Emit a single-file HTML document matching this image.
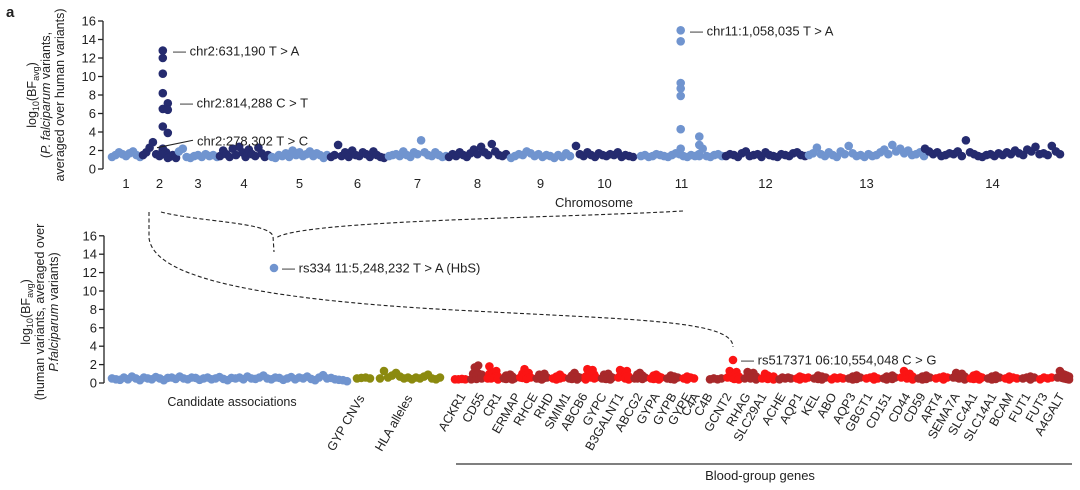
<!DOCTYPE html>
<html><head><meta charset="utf-8"><style>
html,body{margin:0;padding:0;background:#fff;}
svg{display:block;font-family:"Liberation Sans",Arial,sans-serif;}
text{fill:#222;}
</style></head><body>
<svg id="chart" width="1080" height="490" viewBox="0 0 1080 490">
<text x="6" y="17" font-size="15" font-weight="bold">a</text>
<g id="topPanel"></g>
<g id="botPanel"></g>
<g fill="none" stroke="#222" stroke-width="1.1" stroke-dasharray="4,2.5">
<path d="M149,212 L149,238 C153,270 220,295 420,308 C620,320 733,318 733,347"/>
<path d="M161,212 C200,222 268,222 273,236 L274,252"/>
<path d="M683,211 C560,218 300,220 276,238"/>
</g>
</svg>
<script>
// ---- top panel data ----
const chromLabels=["1","2","3","4","5","6","7","8","9","10","11","12","13","14"];
const chromStart=[112,143,179,220,272,331,389,449,511,576,641,726,809,925];
const chromEnd=[140,176,217,268,327,384,446,506,570,633,722,805,924,1060];
const c1=[1.3,1.5,1.8,1.6,1.4,1.7,1.9,1.5,1.3];
const c2=[1.5,1.8,2.3,2.9,1.6,1.4,2.0,1.8,1.3,1.5,1.2];
const c3=[1.9,2.2,1.3,1.2,1.4,1.5,1.3,1.6,1.4,1.5,1.3];
const c4=[1.4,2.0,1.6,1.3,2.2,1.5,2.4,1.8,1.3,2.1,1.6,1.4,2.3,1.7,1.3,1.5];
const c5=[1.3,1.2,1.5,1.4,1.7,1.3,2.0,1.5,1.8,1.4,1.6,1.9,1.4,1.7,1.5,1.2,1.5];
const c6=[1.3,1.5,2.6,1.4,1.8,1.3,2.0,1.5,1.4,1.8,1.6,1.3,1.9,1.5,1.3,1.2];
const c7=[1.4,1.5,1.6,1.4,1.9,1.5,1.3,1.8,1.6,3.1,1.8,1.5,1.4,1.8,1.5,1.3,1.4];
const c8=[1.3,1.6,1.4,1.8,1.5,1.3,1.7,2.1,1.6,2.4,1.8,1.5,2.7,1.9,1.5,1.4,1.6];
const c9=[1.2,1.4,1.6,1.5,1.9,1.7,1.4,1.6,1.3,1.5,1.4,1.2,1.5,1.3,1.7,1.4];
const c10=[2.5,1.6,1.4,1.8,1.5,1.3,1.7,1.5,1.4,1.6,1.5,1.8,1.3,1.5,1.4,1.3];
const c11=[1.4,1.5,1.3,1.4,1.6,1.5,1.4,1.3,1.5,1.7,1.6,1.4,1.3,1.5,1.4,1.6,2.2,1.4,1.3,1.5,1.6,1.4];
const c12=[1.4,1.6,1.5,1.3,1.7,1.9,1.4,1.5,1.6,1.3,1.8,1.5,1.4,1.3,1.6,1.5,1.4,1.7,1.8,1.5,1.4];
const c13=[1.5,1.7,2.3,1.6,1.4,1.8,1.5,1.3,1.9,1.6,2.5,1.7,1.4,1.5,1.3,1.6,1.4,1.5,1.8,2.1,1.6,2.6,1.9,2.2,1.7,2.0,1.5,1.6,1.8,1.4];
const c14=[2.2,1.9,1.6,1.8,1.4,1.5,1.7,1.6,1.9,1.4,3.1,1.8,1.6,1.4,1.3,1.5,1.6,1.4,1.7,1.5,1.8,1.6,2.0,1.7,1.5,2.1,1.9,2.4,1.6,1.7,1.5,2.5,1.9,1.6];
const chromVals=[c1,c2,c3,c4,c5,c6,c7,c8,c9,c10,c11,c12,c13,c14];
const hitChrom=[2,2,11,11];
const hitFrac=[0.6,0.75,0.49,0.72];
const hitVals=[[12.8,12.0,10.3,8.2,6.5,4.6,2.2,1.6],[7.1,6.4,3.9,1.5,1.2],[15.0,13.8,9.3,8.7,7.9,4.3,2.2],[3.5,2.6,1.4]];
const yTicks=[0,2,4,6,8,10,12,14,16];
// ---- bottom panel data ----
const candVals=[0.5,0.4,0.35,0.6,0.4,0.7,0.5,0.3,0.6,0.5,0.4,0.65,0.5,0.3,0.55,0.6,0.45,0.7,0.5,0.4,0.6,0.55,0.35,0.5,0.6,0.4,0.5,0.65,0.45,0.3,0.55,0.5,0.6,0.4,0.7,0.5,0.45,0.6,0.8,0.5,0.4,0.6,0.55,0.35,0.5,0.65,0.4,0.6,0.5,0.7,0.45,0.3,0.6,0.85,0.5,0.55,0.4,0.35,0.3,0.2];
const gypVals=[0.5,0.55,0.6,0.5];
const hlaVals=[0.5,1.3,0.6,0.8,1.1,0.7,0.5,0.6,0.4,0.6,0.5,0.7,0.9,0.5,0.4,0.6];
const geneNames=["ACKR1","CD55","CR1","ERMAP","RHCE","RHD","SMIM1","ABCB6","GYPC","B3GALNT1","ABCG2","GYPA","GYPB","GYPE","C4A","C4B","GCNT2","RHAG","SLC29A1","ACHE","AQP1","KEL","ABO","AQP3","GBGT1","CD151","CD44","CD59","ART4","SEMA7A","SLC4A1","SLC14A1","BCAM","FUT1","FUT3","A4GALT"];
const geneLabelX=[466,485,502,521,538,554,571,588,607,624,643,660,677,692,700,713,732,751,767,786,803,820,837,856,873,892,911,926,943,960,978,997,1014,1031,1048,1065];
const geneVals=[
[0.4,0.4,0.45,0.4],[0.4,1.0,1.7,0.8,1.9,0.6,0.9],[0.5,1.8,0.9,1.1,0.6,1.3,0.7],[0.5,0.8,0.6,0.9,0.7,0.5],[0.6,1.0,1.5,0.8,1.1,0.6],
[0.5,0.9,0.7,1.0,0.6],[0.5,0.7,0.9,0.6],[0.5,0.8,1.1,0.7,0.6],[0.7,1.5,1.3,1.1,1.4,0.9,0.6],[0.5,0.9,0.8,1.0,0.7,0.6],
[0.6,1.4,1.3,1.2,0.9,1.3,0.7],[0.5,0.9,1.1,0.8,0.6],[0.5,0.8,0.9,0.7,0.6],[0.5,0.8,0.7,0.6],[0.5,0.7,0.6,0.5],
[0.4,0.5,0.4,0.5],[0.6,1.3,1.0,0.8,1.2,0.7],[0.5,1.2,0.9,1.1,0.7],[0.5,1.0,0.8,0.6,0.7],[0.4,0.6,0.5,0.6,0.5],
[0.5,0.7,0.6,0.5,0.6],[0.5,0.8,0.7,0.6],[0.4,0.6,0.5,0.6,0.5],[0.5,0.7,0.8,0.6],[0.5,0.6,0.7,0.5],
[0.5,0.7,0.6,0.8,0.6],[0.6,1.3,0.9,1.0,0.7],[0.5,0.7,0.8,0.6],[0.5,0.6,0.7,0.6],[0.6,1.1,0.9,1.0,0.7],
[0.5,0.8,0.9,0.7,0.6],[0.5,0.7,0.8,0.6],[0.5,0.7,0.6,0.5],[0.5,0.6,0.7,0.6],[0.4,0.6,0.5,0.6],[0.6,1.3,1.0,0.9,0.8,0.7]];
const hitRs334=12.5;
const hitRs517=2.5;

const NS="http://www.w3.org/2000/svg";
function mk(parent,tag,attrs){const e=document.createElementNS(NS,tag);for(const k in attrs)e.setAttribute(k,attrs[k]);parent.appendChild(e);return e;}
const LB="#7094cf",NV="#252b6f",OL="#8b8a0f",RD="#fb1414",DR="#a8282a";
const topG=document.getElementById('topPanel'),botG=document.getElementById('botPanel');
const yTop=v=>169-v*9.25;
const yBot=v=>383-v*9.2;
const R=4.3;
function dot(g,x,y,c,name){const e=mk(g,'circle',{cx:x.toFixed(1),cy:y.toFixed(1),r:R,fill:c});

return e;}
function axis(g,ax,yf,name){
 const a=mk(g,'line',{x1:ax,x2:ax,y1:yf(16),y2:yf(0),stroke:'#222','stroke-width':1.3});
 
 
 yTicks.forEach(t=>{mk(g,'line',{x1:ax-5,x2:ax,y1:yf(t),y2:yf(t),stroke:'#222','stroke-width':1.3});
  const tx=mk(g,'text',{x:ax-7,y:yf(t)+4.5,'font-size':13,'text-anchor':'end'});tx.textContent=t;
  
  });
}
// top
axis(topG,103,yTop,'top-y-axis');
chromVals.forEach((vals,i)=>{
 const c=i%2===0?LB:NV,s=chromStart[i],e=chromEnd[i];
 vals.forEach((v,j)=>dot(topG,s+(e-s)*j/(vals.length-1),yTop(v),c,'chrom-point'));
 const t=mk(topG,'text',{x:(s+e)/2,y:188,'font-size':13,'text-anchor':'middle'});t.textContent=chromLabels[i];
 
 
});
hitChrom.forEach((ch,k)=>{const i=ch-1,x=chromStart[i]+(chromEnd[i]-chromStart[i])*hitFrac[k];const c=i%2===0?LB:NV;
 hitVals[k].forEach(v=>dot(topG,x,yTop(v),c,'hit-point'));});
const ct=mk(topG,'text',{x:594,y:207,'font-size':13,'text-anchor':'middle'});ct.textContent='Chromosome';


function ann(g,x,y,txt,name){const t=mk(g,'text',{x:x,y:y,'font-size':13});t.textContent=txt;
 
 }
ann(topG,173,yTop(12.8)+5,'— chr2:631,190 T > A','annotation-chr2-631190');
ann(topG,180,yTop(7.1)+4,'— chr2:814,288 C > T','annotation-chr2-814288');
ann(topG,197,yTop(3.0)+4,'chr2:278,302 T > C','annotation-chr2-278302');
mk(topG,'line',{x1:157,y1:yTop(2.3),x2:193,y2:yTop(3.0)-1,stroke:'#222','stroke-width':1.1});
ann(topG,690,yTop(15)+5,'— chr11:1,058,035 T > A','annotation-chr11');
function ylab(g,cx,cy,lines,name){
 const t=mk(g,'text',{transform:`translate(${cx},${cy}) rotate(-90)`,'font-size':12.5,'text-anchor':'middle'});
 
 
 lines.forEach((ln,i)=>{const ts=mk(t,'tspan',{x:0,y:i*14});ts.innerHTML=ln;});
}
ylab(topG,36,95,['log<tspan font-size="9" dy="3">10</tspan><tspan dy="-3">(BF</tspan><tspan font-size="9" dy="3">avg</tspan><tspan dy="-3">)</tspan>','(<tspan font-style="italic">P. falciparum</tspan> variants,','averaged over human variants)'],'top-y-axis-title');
// bottom
axis(botG,104,yBot,'bottom-y-axis');
candVals.forEach((v,j)=>dot(botG,112+235*j/(candVals.length-1),yBot(v),LB,'candidate-point'));
gypVals.forEach((v,j)=>dot(botG,357+13*j/(gypVals.length-1),yBot(v),OL,'gyp-cnv-point'));
hlaVals.forEach((v,j)=>dot(botG,380+60*j/(hlaVals.length-1),yBot(v),OL,'hla-point'));
geneVals.forEach((vals,i)=>{
 let s,w;if(i<15){w=(697-452)/15;s=452+w*i;}else{w=(1072-707)/21;s=707+w*(i-15);}
 const c=i%2===0?RD:DR;
 vals.forEach((v,j)=>{dot(botG,s+3+(w-6)*j/(vals.length-1),yBot(v),c,'blood-gene-point');
  if(v>0.6)dot(botG,s+3+(w-6)*j/(vals.length-1),yBot(v*0.55),c,'blood-gene-point');});
 const t=mk(botG,'text',{transform:`translate(${geneLabelX[i]},396) rotate(-60)`,'font-size':12.5,'text-anchor':'end'});
 t.textContent=geneNames[i];
 
 
});
dot(botG,274,yBot(hitRs334),LB,'rs334-point');
ann(botG,282,yBot(hitRs334)+4.5,'— rs334 11:5,248,232 T > A (HbS)','annotation-rs334');
dot(botG,733,yBot(hitRs517),RD,'rs517371-point');
ann(botG,741,yBot(hitRs517)+4.5,'— rs517371 06:10,554,048 C > G','annotation-rs517371');
const gl=[['Candidate associations',232,406,0,'middle','candidate-label'],['GYP CNVs',365,398,-60,'end','gyp-cnv-label'],['HLA alleles',413,398,-60,'end','hla-label']];
gl.forEach(g=>{const t=mk(botG,'text',{transform:`translate(${g[1]},${g[2]}) rotate(${g[3]})`,'font-size':12.5,'text-anchor':g[4]});t.textContent=g[0];
 
 });
const bl=mk(botG,'line',{x1:456,x2:1072,y1:464,y2:464,stroke:'#555','stroke-width':1.5});


const bt=mk(botG,'text',{x:760,y:480,'font-size':13,'text-anchor':'middle'});bt.textContent='Blood-group genes';


ylab(botG,30,312,['log<tspan font-size="9" dy="3">10</tspan><tspan dy="-3">(BF</tspan><tspan font-size="9" dy="3">avg</tspan><tspan dy="-3">)</tspan>','(human variants, averaged over','<tspan font-style="italic">P.falciparum</tspan> variants)'],'bottom-y-axis-title');
</script>
</body></html>
